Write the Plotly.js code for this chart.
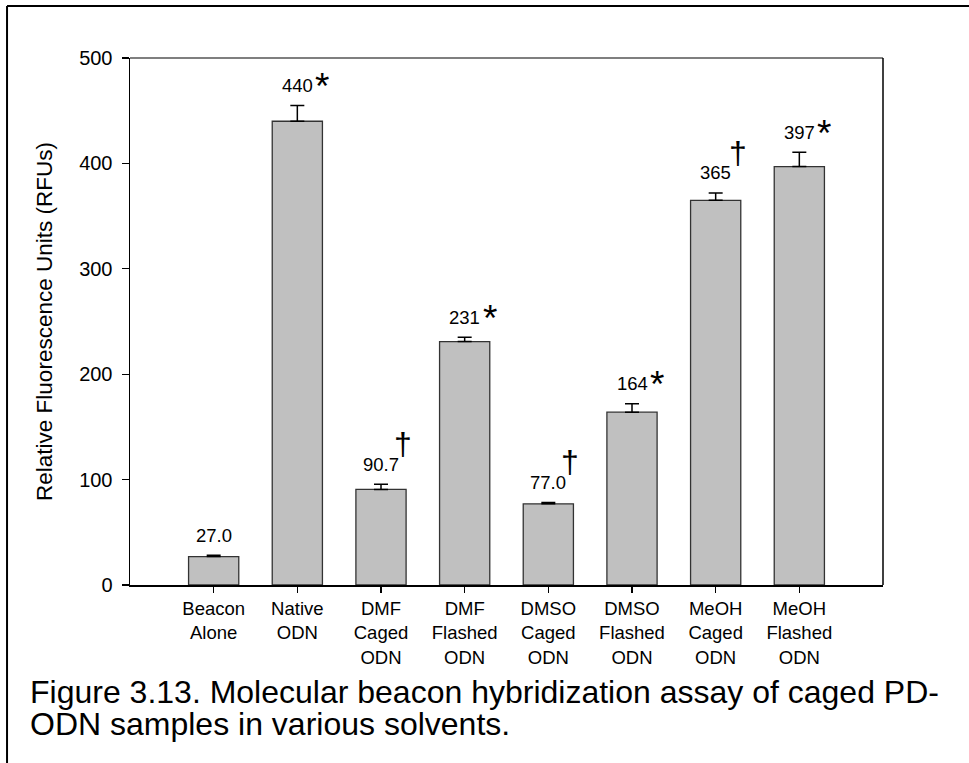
<!DOCTYPE html>
<html>
<head>
<meta charset="utf-8">
<script src="https://cdn.plot.ly/plotly-3.0.1.min.js"></script>
<style>
  html, body { margin: 0; padding: 0; background: #ffffff; }
  #chart { width: 969px; height: 763px; }
</style>
</head>
<body>
<div id="chart"></div>
<script>
// ---- data ----
const categories = [
  "Beacon<br>Alone",
  "Native<br>ODN",
  "DMF<br>Caged<br>ODN",
  "DMF<br>Flashed<br>ODN",
  "DMSO<br>Caged<br>ODN",
  "DMSO<br>Flashed<br>ODN",
  "MeOH<br>Caged<br>ODN",
  "MeOH<br>Flashed<br>ODN"
];
const values = [27.0, 440, 90.7, 231, 77.0, 164, 365, 397];
const errors = [1.3, 15, 5, 4, 1.3, 8, 7, 13.5];
const valueLabels = ["27.0", "440", "90.7", "231", "77.0", "164", "365", "397"];
const marks = ["", "*", "\u2020", "*", "\u2020", "*", "\u2020", "*"];
const yTicks = [0, 100, 200, 300, 400, 500];
const yTitle = "Relative Fluorescence Units (RFUs)";
const captionLines = [
  "Figure 3.13. Molecular beacon hybridization assay of caged PD-",
  "ODN samples in various solvents."
];

const FONT = "Liberation Sans, Arial, sans-serif";
const xIdx = categories.map((_, i) => i);

const trace = {
  type: "bar",
  x: xIdx,
  y: values,
  width: 0.6,
  marker: { color: "#c0c0c0", line: { color: "#333333", width: 1.3 } },
  error_y: {
    type: "data", array: errors, arrayminus: errors.map(() => 0),
    symmetric: false, visible: true, color: "#000000", thickness: 1.5, width: 7
  },
  hoverinfo: "skip"
};

const annotations = [];
values.forEach((v, i) => {
  const top = v + errors[i];
  annotations.push({
    x: i, y: top, xref: "x", yref: "y", text: valueLabels[i],
    showarrow: false, xanchor: "center", yanchor: "middle", yshift: 20,
    font: { family: FONT, size: 18.5, color: "#000" }
  });
  if (marks[i] === "*") {
    annotations.push({
      x: i, y: top, xref: "x", yref: "y", text: marks[i],
      showarrow: false, xanchor: "center", yanchor: "middle", xshift: 25, yshift: 19,
      font: { family: FONT, size: 37, color: "#000" }
    });
  } else if (marks[i]) {
    annotations.push({
      x: i, y: top, xref: "x", yref: "y", text: marks[i],
      showarrow: false, xanchor: "center", yanchor: "middle", xshift: 22, yshift: 40,
      font: { family: FONT, size: 32, color: "#000" }
    });
  }
});
captionLines.forEach((t, k) => {
  annotations.push({
    x: -0.1355, y: k === 0 ? -0.2030 : -0.2638, xref: "paper", yref: "paper",
    text: t, showarrow: false, xanchor: "left", yanchor: "middle", align: "left",
    font: { family: FONT, size: 32, color: "#000" }
  });
});

const layout = {
  width: 969, height: 763,
  margin: { l: 130, r: 86, t: 58, b: 178, autoexpand: false },
  paper_bgcolor: "#ffffff", plot_bgcolor: "#ffffff",
  showlegend: false,
  font: { family: FONT, color: "#000" },
  xaxis: {
    range: [-1, 8], tickmode: "array", tickvals: xIdx, ticktext: categories,
    ticks: "outside", ticklen: 6, tickwidth: 1.2, tickcolor: "#000",
    showline: true, linecolor: "#000", linewidth: 2.2,
    showgrid: false, zeroline: false, fixedrange: true,
    tickfont: { family: FONT, size: 18.5, color: "#000" }
  },
  yaxis: {
    range: [0, 500], tickmode: "array", tickvals: yTicks,
    ticks: "outside", ticklen: 7, tickwidth: 1.2, tickcolor: "#000",
    ticklabelstandoff: 5,
    showline: true, linecolor: "#000", linewidth: 1.5,
    showgrid: false, zeroline: false, fixedrange: true,
    tickfont: { family: FONT, size: 20, color: "#000" },
    title: { text: yTitle, standoff: 20, font: { family: FONT, size: 22.5, color: "#000" } }
  },
  shapes: [
    // plot frame top & right
    { type: "line", xref: "paper", yref: "paper", x0: 0, x1: 1, y0: 1, y1: 1, line: { color: "#000", width: 1.2 } },
    { type: "line", xref: "paper", yref: "paper", x0: 1, x1: 1, y0: 0, y1: 1, line: { color: "#000", width: 1.5 } },
    // outer figure border (top and left)
    { type: "line", xref: "paper", yref: "paper", x0: -0.1633, x1: 1.12, y0: 1.0987, y1: 1.0987, line: { color: "#000", width: 2 } },
    { type: "line", xref: "paper", yref: "paper", x0: -0.1633, x1: -0.1633, y0: 1.0987, y1: -0.34, line: { color: "#000", width: 2 } }
  ],
  annotations: annotations
};

Plotly.newPlot("chart", [trace], layout, { staticPlot: true, displayModeBar: false });
</script>
</body>
</html>
